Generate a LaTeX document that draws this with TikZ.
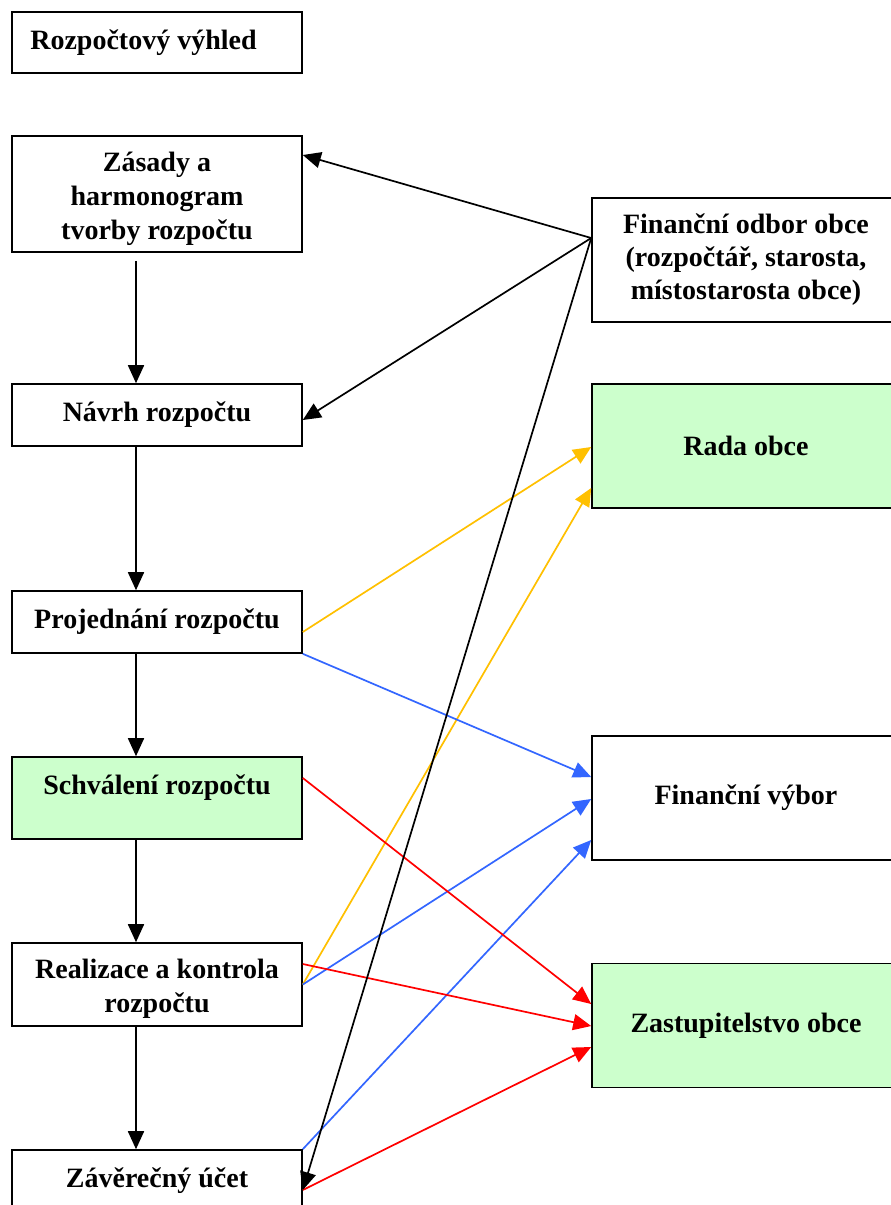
\documentclass[tikz,border=0pt]{standalone}
\usepackage{fontspec}
\setmainfont{Liberation Serif}
\usetikzlibrary{arrows.meta}
\definecolor{boxgreen}{HTML}{CCFFCC}
\definecolor{cyellow}{HTML}{FFC000}
\definecolor{cblue}{HTML}{3366FF}
\definecolor{cred}{HTML}{FF0000}
\begin{document}
\begin{tikzpicture}[x=1pt,y=-1pt,
  box/.style={draw=black,line width=1.6pt,rectangle,inner sep=0pt,align=center,
    font=\fontsize{28}{33}\selectfont\bfseries},
  lbox/.style={box,minimum width=290pt},
  rbox/.style={box,minimum width=308pt,minimum height=124pt},
  txt/.style={inner sep=0pt,align=center,font=\fontsize{28}{34}\selectfont\bfseries},
  conn/.style={line width=1.7pt,-{Triangle[length=18pt,width=16pt]}},
]
\useasboundingbox (0,0) rectangle (891,1205);
\clip (0,0) rectangle (891,1205);
\fill[white] (0,0) rectangle (891,1205);

% left column
\node[lbox,minimum height=61pt] (b1) at (157,42.5) {Rozpočtový výhled\hspace{27pt}};
\node[lbox,minimum height=116pt] (b2) at (157,194) {};
\node[txt] (b2t) at (157,199) {Zásady a\\harmonogram\\tvorby rozpočtu};
\node[lbox,minimum height=62pt] (b3) at (157,415) {Návrh rozpočtu};
\node[lbox,minimum height=62pt] (b4) at (157,622) {Projednání rozpočtu};
\node[lbox,minimum height=82pt,fill=boxgreen] (b5) at (157,798) {};
\node[txt] (b5t) at (157,788) {Schválení rozpočtu};
\node[lbox,minimum height=83pt] (b6) at (157,984.5) {};
\node[txt] (b6t) at (157,989) {Realizace a kontrola\\rozpočtu};
\node[lbox,minimum height=62pt] (b7) at (157,1181) {\raisebox{6pt}{Závěrečný účet}};

% right column
\node[rbox] (r1) at (746,260) {Finanční odbor obce\\(rozpočtář, starosta,\\místostarosta obce)};
\node[rbox,fill=boxgreen] (r2) at (746,446) {Rada obce};
\node[rbox] (r3) at (746,798) {Finanční výbor};
\node[rbox,fill=boxgreen] (r4) at (746,1025.5) {Zastupitelstvo obce};

% vertical flow
\draw[conn,shorten <=8pt] ([xshift=-21pt]b2.south) -- ([xshift=-21pt]b3.north);
\draw[conn] ([xshift=-21pt]b3.south) -- ([xshift=-21pt]b4.north);
\draw[conn] ([xshift=-21pt]b4.south) -- ([xshift=-21pt]b5.north);
\draw[conn] ([xshift=-21pt]b5.south) -- ([xshift=-21pt]b6.north);
\draw[conn] ([xshift=-21pt]b6.south) -- ([xshift=-21pt]b7.north);

% yellow
\draw[conn,draw=cyellow,fill=cyellow] ([yshift=-10pt]b4.east) -- ([yshift=-1pt]r2.west);
\draw[conn,draw=cyellow,fill=cyellow] (b6.east) -- ([yshift=-42pt]r2.west);

% blue
\draw[conn,draw=cblue,fill=cblue] (b4.south east) -- ([yshift=21pt]r3.west);
\draw[conn,draw=cblue,fill=cblue] (b6.east) -- ([yshift=-1pt]r3.west);
\draw[conn,draw=cblue,fill=cblue] (b7.north east) -- ([yshift=-42pt]r3.west);

% red
\draw[conn,draw=cred,fill=cred] ([yshift=20pt]b5.east) -- ([yshift=21.5pt]r4.west);
\draw[conn,draw=cred,fill=cred] ([yshift=20.5pt]b6.east) -- ([yshift=-0.5pt]r4.west);
\draw[conn,draw=cred,fill=cred] ([yshift=-9pt]b7.east) -- ([yshift=-21.5pt]r4.west);

% black from financni odbor
\draw[conn] ([yshift=22pt]r1.west) -- ([yshift=39pt]b2.east);
\draw[conn] ([yshift=22pt]r1.west) -- ([yshift=-5pt]b3.east);
\draw[conn] ([yshift=22pt]r1.west) -- ([yshift=-9pt]b7.east);
\end{tikzpicture}
\end{document}
